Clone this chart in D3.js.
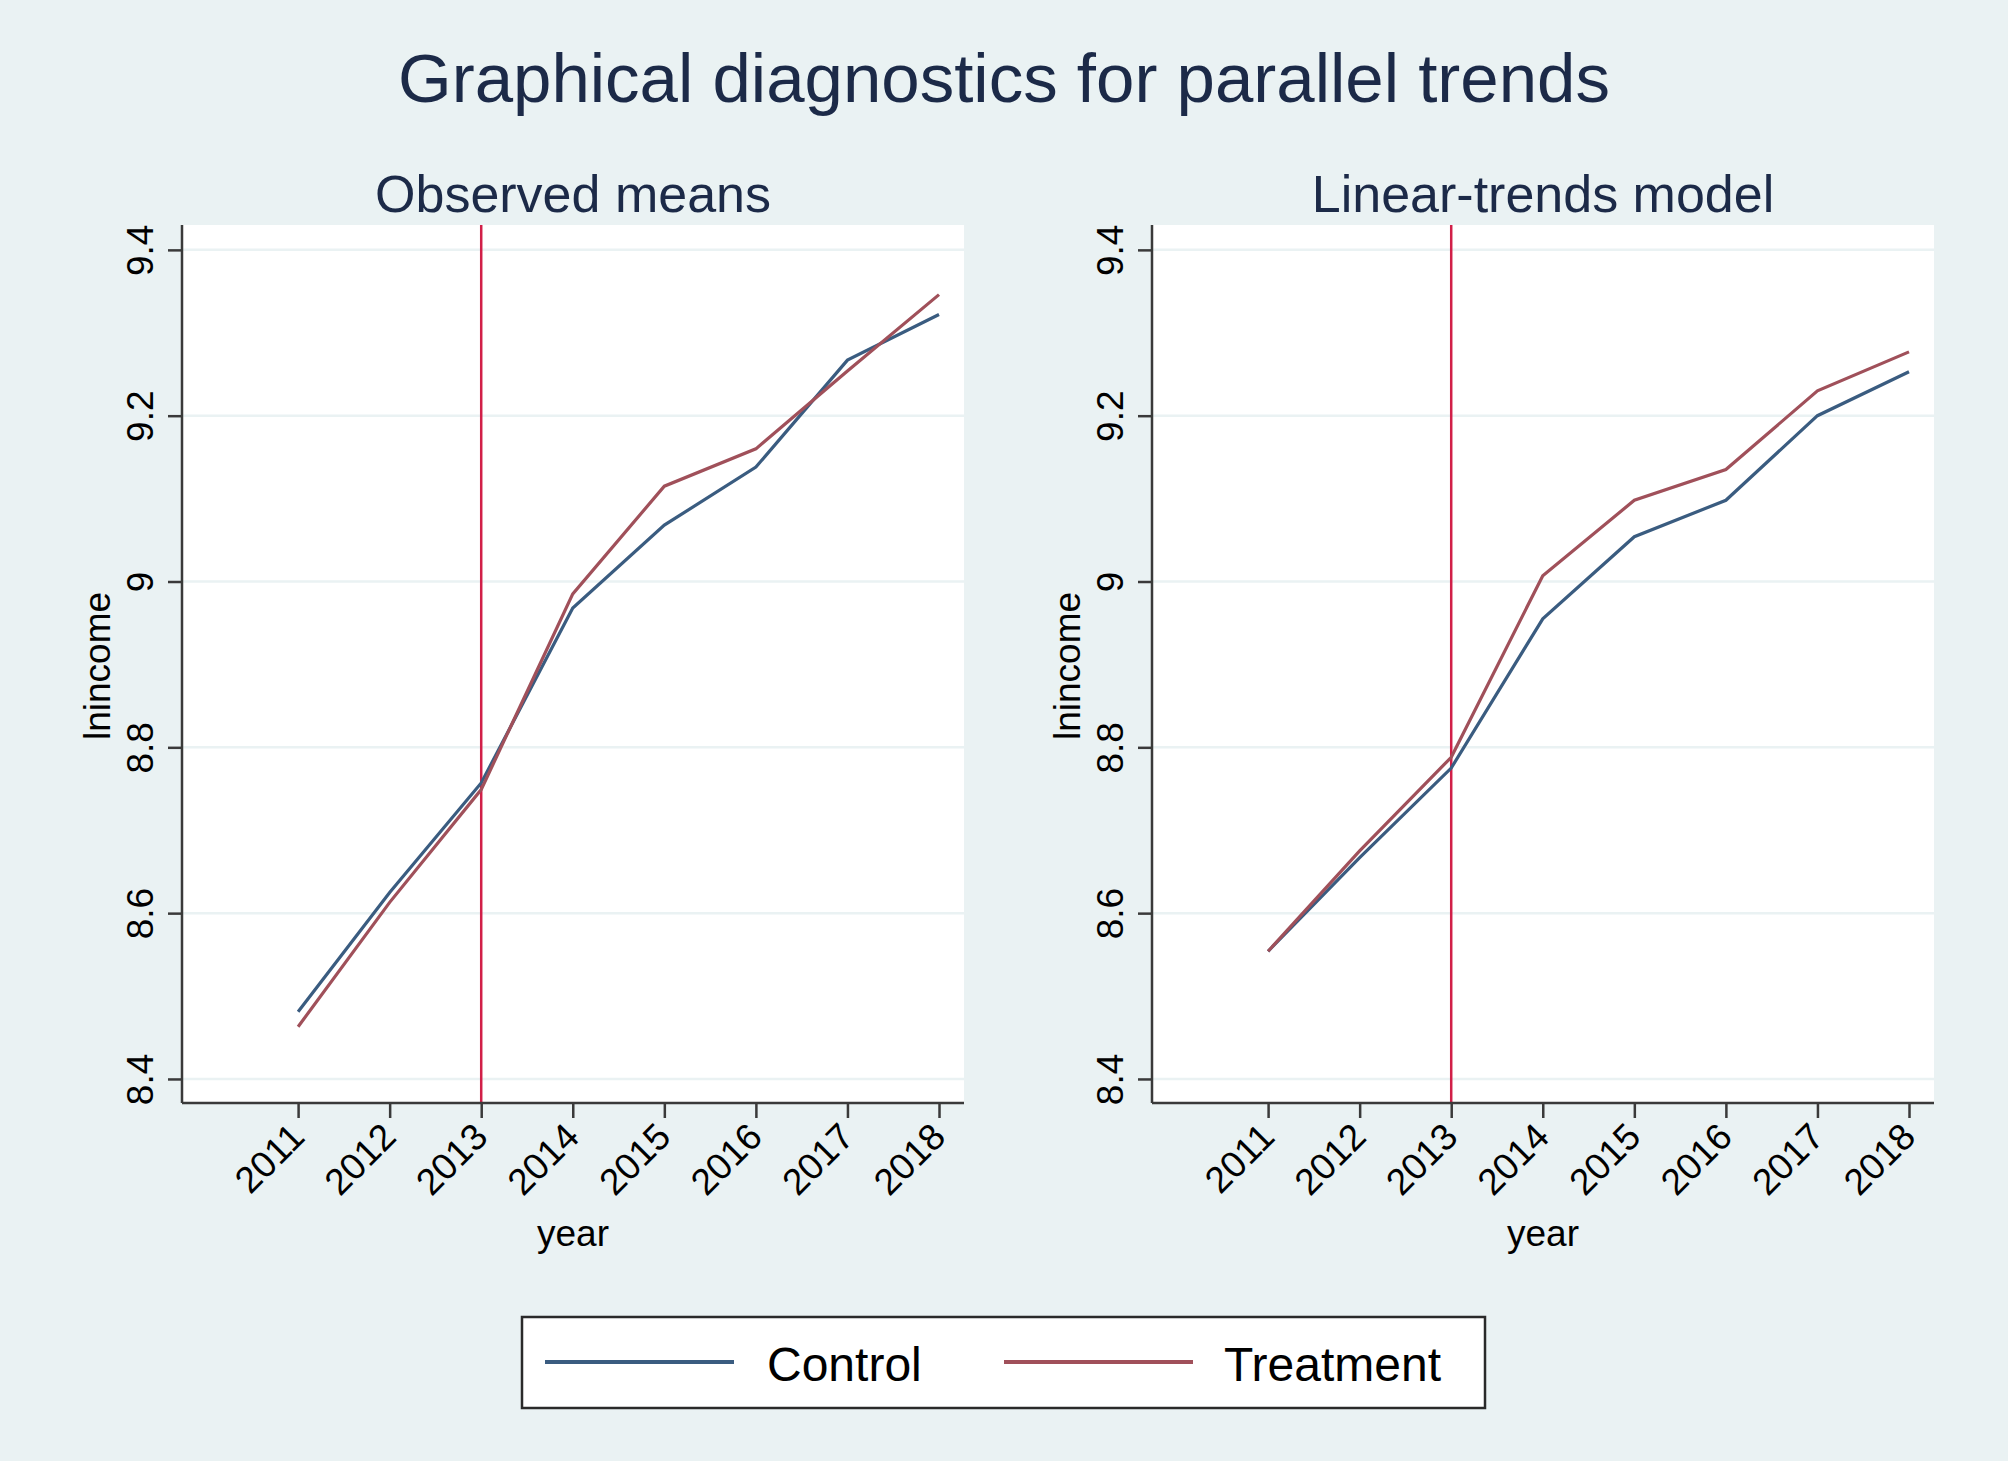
<!DOCTYPE html>
<html>
<head>
<meta charset="utf-8">
<style>
  body { margin: 0; background: #eaf2f3; }
  svg { display: block; font-family: "Liberation Sans", Arial, sans-serif; }
  .domain { stroke: #3a3a3a; stroke-width: 2.5px; }
  .tick line { stroke: #3a3a3a; stroke-width: 2.5px; }
  .tick text { fill: #000; font-size: 37px; }
</style>
<title>Graphical diagnostics for parallel trends</title>
</head>
<body>
<script src="https://cdn.jsdelivr.net/npm/d3@7"></script>
<script>

var years = [2011, 2012, 2013, 2014, 2015, 2016, 2017, 2018];
var observedControl   = [8.481, 8.625, 8.757, 8.968, 9.068, 9.138, 9.267, 9.322];
var observedTreatment = [8.463, 8.613, 8.749, 8.985, 9.115, 9.160, 9.254, 9.346];
var linearControl     = [8.554, 8.667, 8.775, 8.955, 9.054, 9.098, 9.200, 9.253];
var linearTreatment   = [8.554, 8.675, 8.788, 9.007, 9.098, 9.135, 9.230, 9.277];
var yTicks = [8.4, 8.6, 8.8, 9, 9.2, 9.4];
var treatYear = 2013;
var seriesNames = ["Control", "Treatment"];

var colors = {Control: "#3a5c80", Treatment: "#a0505a"};

var W = 2008, H = 1461;
var svg = d3.select("body").append("svg")
  .attr("width", W)
  .attr("height", H);

svg.append("rect").attr("width", W).attr("height", H).attr("fill", "#eaf2f3");

svg.append("text")
  .attr("x", 1004).attr("y", 102)
  .attr("text-anchor", "middle")
  .attr("font-size", 69)
  .attr("fill", "#1c2a48")
  .text("Graphical diagnostics for parallel trends");

var panels = [
  {title: "Observed means", left: 182, control: observedControl, treatment: observedTreatment},
  {title: "Linear-trends model", left: 1152, control: linearControl, treatment: linearTreatment}
];

var pw = 782, plotTop = 225, plotBottom = 1103;

panels.forEach(function(p) {
  var ph = plotBottom - plotTop;
  var x = d3.scaleLinear().domain([2009.732, 2018.273]).range([0, pw]);
  var y = d3.scaleLinear().domain([8.371, 9.430]).range([ph, 0]);

  var g = svg.append("g").attr("transform", `translate(${p.left},${plotTop})`);

  g.append("rect").attr("width", pw).attr("height", ph).attr("fill", "#fff");

  // gridlines
  g.selectAll(".grid").data(yTicks).enter().append("line")
    .attr("x1", 0).attr("x2", pw)
    .attr("y1", d => y(d)).attr("y2", d => y(d))
    .attr("stroke", "#eaf2f3").attr("stroke-width", 2.5);

  // treatment start line
  g.append("line")
    .attr("x1", x(treatYear)).attr("x2", x(treatYear))
    .attr("y1", 0).attr("y2", ph)
    .attr("stroke", "#d11f48").attr("stroke-width", 2.5);

  var line = d3.line().x((d, i) => x(years[i])).y(d => y(d));

  [["Control", p.control], ["Treatment", p.treatment]].forEach(function(s) {
    g.append("path")
      .attr("d", line(s[1]))
      .attr("fill", "none")
      .attr("stroke", colors[s[0]])
      .attr("stroke-width", 3.2);
  });

  var yAxis = g.append("g")
    .call(d3.axisLeft(y).tickValues(yTicks).tickSize(14).tickSizeOuter(0)
      .tickFormat(d => String(+d.toFixed(1))));
  yAxis.selectAll(".tick text")
    .attr("transform", "rotate(-90)")
    .attr("x", 0).attr("y", -29).attr("dy", 0)
    .attr("text-anchor", "middle");
  yAxis.select(".domain").attr("d", `M0,0V${ph}`);

  var xAxis = g.append("g")
    .attr("transform", `translate(0,${ph})`)
    .call(d3.axisBottom(x).tickValues(years).tickSize(15).tickSizeOuter(0)
      .tickFormat(d3.format("d")));
  xAxis.selectAll(".tick text")
    .attr("x", 0).attr("y", 0).attr("dy", 0)
    .attr("transform", "translate(8,36) rotate(-45)")
    .attr("text-anchor", "end");
  xAxis.select(".domain").attr("d", `M0,0H${pw}`);

  g.append("text")
    .attr("x", pw / 2).attr("y", -13)
    .attr("text-anchor", "middle")
    .attr("font-size", 52)
    .attr("fill", "#1c2a48")
    .text(p.title);

  g.append("text")
    .attr("transform", `translate(-72,${ph / 2 + 2}) rotate(-90)`)
    .attr("text-anchor", "middle")
    .attr("font-size", 37)
    .text("lnincome");

  g.append("text")
    .attr("x", pw / 2).attr("y", 1246 - plotTop)
    .attr("text-anchor", "middle")
    .attr("font-size", 37)
    .text("year");
});

// legend
var legend = svg.append("g");
legend.append("rect")
  .attr("x", 522).attr("y", 1317)
  .attr("width", 963).attr("height", 91)
  .attr("fill", "#fff").attr("stroke", "#2a2a2a").attr("stroke-width", 2.5);

var legendX = [{line: 545, text: 767}, {line: 1004, text: 1224}];
seriesNames.forEach(function(name, i) {
  legend.append("line")
    .attr("x1", legendX[i].line).attr("x2", legendX[i].line + 189)
    .attr("y1", 1362).attr("y2", 1362)
    .attr("stroke", colors[name]).attr("stroke-width", 4);
  legend.append("text")
    .attr("x", legendX[i].text).attr("y", 1381)
    .attr("font-size", 48)
    .text(name);
});

</script>
</body>
</html>
